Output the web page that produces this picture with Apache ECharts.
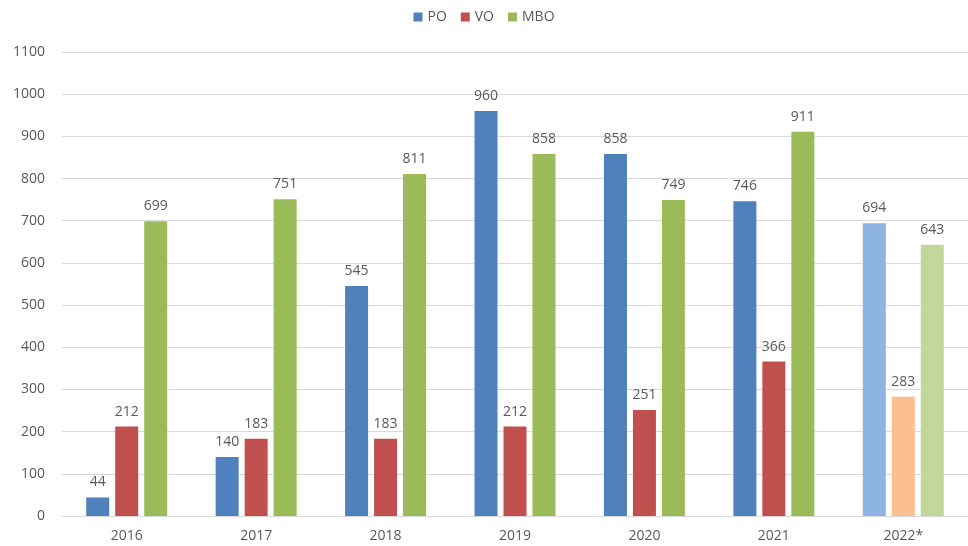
<!DOCTYPE html>
<html>
<head>
<meta charset="utf-8">
<script src="https://cdn.jsdelivr.net/npm/echarts@6/dist/echarts.min.js"></script>
<style>html,body{margin:0;padding:0;background:#fff;}#c{width:968px;height:546px;}</style>
</head>
<body>
<div id="c"></div>
<script>
const categories = ['2016','2017','2018','2019','2020','2021','2022*'];
const seriesNames = ['PO','VO','MBO'];
const poValues = [44,140,545,960,858,746,694];
const voValues = [212,183,183,212,251,366,283];
const mboValues = [699,751,811,858,749,911,643];
const baseColors = ['#4f81bd','#c0504d','#9bbb59'];
const lightColors = ['#8eb4e3','#fac090','#c3d69b'];
const forecastIndex = 6;

const chart = echarts.init(document.getElementById('c'));
const allValues = [poValues, voValues, mboValues];
const series = allValues.map((vals, s) => ({
  name: seriesNames[s],
  type: 'bar',
  barWidth: 23,
  barGap: '26%',
  itemStyle: {color: baseColors[s]},
  label: {show: true, position: 'top', distance: 8, color: '#595959', fontSize: 14, fontFamily: 'Open Sans'},
  data: vals.map((v, i) => i === forecastIndex ? {value: v, itemStyle: {color: lightColors[s]}} : v)
}));
chart.setOption({
  animation: false,
  legend: {
    top: 5, left: 'center', itemWidth: 9, itemHeight: 9, itemGap: 14,
    icon: 'rect',
    textStyle: {color: '#595959', fontSize: 14, fontFamily: 'Open Sans'},
    data: seriesNames
  },
  grid: {left: 62, right: 0, top: 52, bottom: 30},
  xAxis: {
    type: 'category', data: categories,
    axisLine: {lineStyle: {color: '#d9d9d9'}},
    axisTick: {show: false},
    axisLabel: {color: '#595959', fontSize: 14, fontFamily: 'Open Sans', margin: 13}
  },
  yAxis: {
    type: 'value', min: 0, max: 1100, interval: 100,
    axisLine: {show: false}, axisTick: {show: false},
    splitLine: {lineStyle: {color: '#d9d9d9'}},
    axisLabel: {color: '#595959', fontSize: 14, fontFamily: 'Open Sans', margin: 17, formatter: v => String(v)}
  },
  series: series
});
</script>
</body>
</html>
